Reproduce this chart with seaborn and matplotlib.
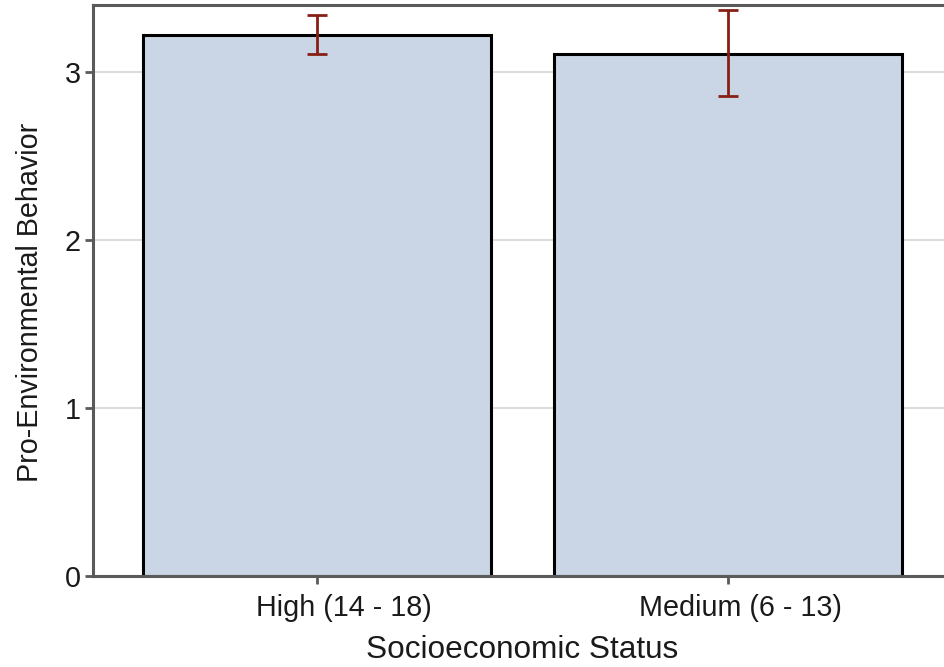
import matplotlib
matplotlib.use("Agg")
import matplotlib.pyplot as plt
import matplotlib.transforms as mtransforms
import seaborn as sns
import numpy as np

categories = ["High (14 - 18)", "Medium (6 - 13)"]
means = [3.22, 3.11]
ci_low = [3.11, 2.86]
ci_high = [3.34, 3.37]
yticks = [0, 1, 2, 3]

sns.set_theme(style="white")
plt.rcParams["font.family"] = ["Liberation Sans", "DejaVu Sans"]

fig = plt.figure(figsize=(9.45, 6.67), dpi=100)
ax = fig.add_axes([0.0984, 0.1364, 0.9090, 0.8561])

ax.set_axisbelow(True)
ax.yaxis.grid(True, color="#dddddd", linewidth=1.5)

sns.barplot(x=categories, y=means, errorbar=None, color="#cad5e5",
            saturation=1, width=0.847, edgecolor="black", linewidth=2.2, ax=ax)

xpos = np.arange(len(categories))
m = np.array(means)
yerr = np.vstack([m - np.array(ci_low), np.array(ci_high) - m])
ax.errorbar(xpos, m, yerr=yerr, fmt="none", ecolor="#862015",
            elinewidth=2, capsize=7.5, capthick=2, zorder=5)

ax.set_xlim(-0.545, 1.545)
ax.set_ylim(0, 3.40)
ax.set_yticks(yticks)
ax.set_yticklabels([str(t) for t in yticks])

for s in ax.spines.values():
    s.set_color("#5a5a5a")
    s.set_linewidth(2.2)

ax.tick_params(axis="both", direction="out", length=6, width=2,
               color="#5a5a5a", labelsize=20.7, labelcolor="#1a1a1a",
               left=True, bottom=True)
ax.tick_params(axis="x", pad=7)
ax.tick_params(axis="y", pad=3)

# small horizontal offsets of the category labels as in the reference
shifts = [0.27, 0.12]
for lab, dx in zip(ax.get_xticklabels(), shifts):
    lab.set_transform(lab.get_transform() +
                      mtransforms.ScaledTranslation(dx, 0, fig.dpi_scale_trans))

ax.set_xlabel("Socioeconomic Status", fontsize=22.7, color="#1a1a1a", labelpad=9)
ax.set_ylabel("Pro-Environmental Behavior", fontsize=20.7, color="#1a1a1a")
ax.yaxis.set_label_coords(-0.057, 0.48)

fig.savefig("out.png", dpi=100)
